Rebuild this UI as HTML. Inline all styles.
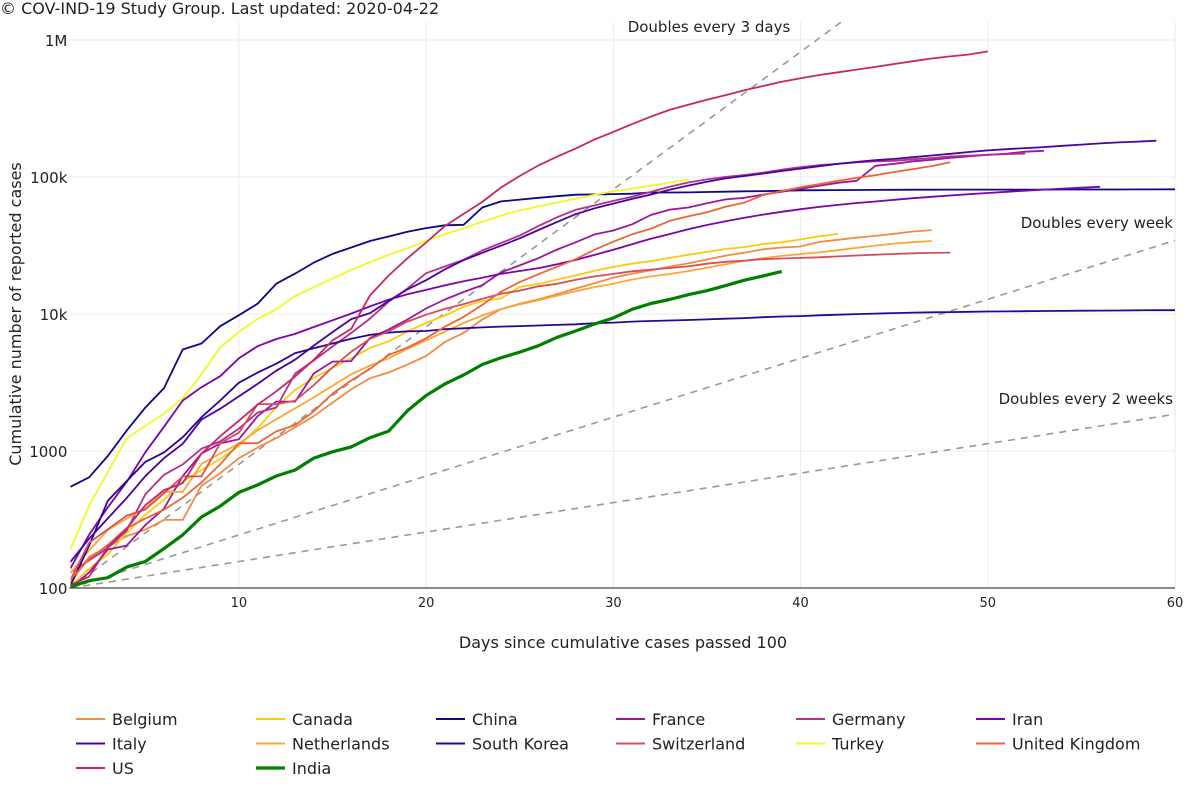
<!DOCTYPE html>
<html><head><meta charset="utf-8">
<style>
body{margin:0;background:#fff;}
svg{display:block;font-family:"DejaVu Sans","Liberation Sans",sans-serif;}
</style></head>
<body>
<svg id="chart" width="1200" height="802" xmlns="http://www.w3.org/2000/svg">
<text x="0" y="14" font-size="16" fill="#222">© COV-IND-19 Study Group. Last updated: 2020-04-22</text>
<g id="grid"></g>
<g id="refs"></g>
<g id="series" ></g>
<g id="axes"></g>
<g id="legend"></g>
<text x="623" y="648" font-size="16" text-anchor="middle" fill="#222">Days since cumulative cases passed 100</text>
<text transform="translate(21,314) rotate(-90)" font-size="16" text-anchor="middle" fill="#222">Cumulative number of reported cases</text>
</svg>
<script>
const xTicks=[10,20,30,40,50,60];
const yTicks=[100,1000,10000,100000,1000000];
const yTickLabels=["100","1000","10k","100k","1M"];
const countries=["Belgium","Canada","China","France","Germany","Iran","Italy","Netherlands","South Korea","Switzerland","Turkey","United Kingdom","US","India"];
const colors=["#f48a45","#f9cc0b","#0d0887","#9c179e","#b52f8c","#7e03a8","#4a02a0","#fca636","#2c0594","#da4c5c","#f0f921","#ee6436","#c8256b","#008000"];
const belgium=[109,169,200,239,267,314,314,559,689,886,1058,1243,1486,1795,2257,2815,3401,3743,4269,4937,6235,7284,9134,10836,11899,12775,13964,15348,16770,18431,19691,20814,22194,23403,24983,26667,28018,29647,30589,31119,33573,34809,36138,37183,38496,39983,40956];
const canada=[103,138,176,252,342,441,598,727,873,1087,1468,2091,2792,3409,4043,4757,5655,6320,7448,8591,9731,11284,12437,12978,15756,16563,17872,19141,20654,22059,23316,24298,25680,27035,28379,29812,30809,32412,33383,35056,36857,38422];
const china=[548,643,920,1406,2075,2877,5509,6087,8141,9802,11891,16630,19716,23707,27440,30587,34110,36814,39829,42354,44386,44759,59895,66358,68413,70513,72434,74211,74619,75077,75550,77001,77022,77241,77754,78166,78600,78928,79356,79932,80136,80261,80386,80537,80690,80770,80823,80860,80887,80921,80932,80945,80977,81003,81033,81058,81102,81156,81250,81305];
const france=[100,130,191,204,288,380,656,959,1136,1219,1794,2293,2293,3681,4496,4532,6683,7715,9124,10970,12758,14463,16243,20123,22622,25600,29551,33402,38105,40708,45170,52827,57749,59929,64338,68605,70478,74390,78167,82048,86334,90676,93790,120633,124869,130253,133470,137875,141356,144944,148084,152894,155393];
const germany=[130,159,196,262,482,670,799,1040,1176,1457,1908,2078,3675,4585,5795,7272,9257,12327,15320,19848,22213,24873,29056,32986,37323,43938,50871,57695,62095,66885,71808,77872,84794,91159,96092,100123,103374,107663,113296,118181,122171,124908,127854,130072,131359,134753,137698,141397,143342,145184,147065,148291];
const iran=[139,245,388,593,978,1501,2336,2922,3513,4747,5823,6566,7161,8042,9000,10075,11364,12729,13938,14991,16169,17361,18407,19644,20610,21638,23049,24811,27017,29406,32332,35408,38309,41495,44605,47593,50468,53183,55743,58226,60500,62589,64586,66220,68192,70029,71686,73303,74877,76389,77995,79494,80868,82211,83505,84802];
const italy=[155,229,322,453,655,888,1128,1694,2036,2502,3089,3858,4636,5883,7375,9172,10149,12462,15113,17660,21157,24747,27980,31506,35713,41035,47021,53578,59138,63927,69176,74386,80589,86498,92472,97689,101739,105792,110574,115242,119827,124632,128948,132547,135586,139422,143626,147577,152271,156363,159516,162488,165155,168941,172434,175925,178972,181228,183957];
const netherlands=[128,188,265,321,382,503,503,804,959,1135,1413,1705,2051,2460,2994,3631,4204,4749,5560,6412,7431,8603,9762,10866,11750,12595,13614,14697,15723,16627,17851,18803,19580,20549,21762,23097,24413,25587,26551,27419,28153,29214,30449,31589,32655,33405,34134];
const southKorea=[104,204,433,602,833,977,1261,1766,2337,3150,3736,4335,5186,5621,6088,6593,7041,7314,7478,7513,7755,7869,7979,8086,8162,8236,8320,8413,8565,8652,8799,8897,8961,9037,9137,9241,9332,9478,9583,9661,9786,9887,9976,10062,10156,10237,10284,10331,10384,10423,10450,10480,10512,10537,10564,10591,10613,10635,10653,10661];
const switzerland=[114,214,268,337,374,491,652,652,1139,1359,2200,2200,2330,3028,4075,5294,6575,7474,8795,9877,10897,11811,12928,14076,14829,15922,16605,17768,18827,19606,20505,21100,21657,22253,23280,24051,24551,25107,25415,25688,25936,26336,26732,27078,27404,27740,27944,28063];
const turkey=[191,400,700,1236,1529,1872,2433,3629,5698,7402,9217,10827,13531,15679,18135,20921,23934,27069,30217,34109,38226,42282,47029,52167,56956,61049,65111,69392,74193,78546,82329,86306,90980,95591];
const uk=[115,163,206,273,321,373,456,590,798,1140,1140,1391,1543,1950,2626,3269,3983,5018,5683,6650,8077,9529,11658,14543,17089,19522,22141,25150,29474,33718,38168,41903,47806,51608,55242,60733,65077,73758,78991,84279,88621,93873,98476,103093,108692,114217,120067,128000];
const us=[105,121,200,271,402,518,583,959,1281,1663,2179,2726,3499,4632,6421,7786,13680,19101,25493,33276,43847,53740,65778,83836,101657,121478,140886,161807,188172,213372,243453,275586,308850,337072,366667,396223,429052,461437,496535,526396,555313,580619,607670,636350,667801,699706,732197,758809,784326,825041];
const india=[102,113,119,142,156,194,244,330,396,499,566,657,727,887,987,1071,1251,1397,1965,2543,3082,3588,4281,4789,5274,5865,6761,7529,8447,9352,10815,11933,12759,13835,14792,16116,17656,18985,20471];
const seriesData=[belgium,canada,china,france,germany,iran,italy,netherlands,southKorea,switzerland,turkey,uk,us,india];
const doublingDays=[3,7,14];
const doublingLabels=["Doubles every 3 days","Doubles every week","Doubles every 2 weeks"];

const NS="http://www.w3.org/2000/svg";
const X0=70.4,X1=1175,Y0=588,DEC=137,TOP=22;
function xs(d){return X0+(d-1)*(X1-X0)/59;}
function ys(v){return Y0-DEC*Math.log10(v/100);}
function mk(tag,attrs,parent){const e=document.createElementNS(NS,tag);for(const k in attrs)e.setAttribute(k,attrs[k]);parent.appendChild(e);return e;}

const grid=document.getElementById('grid');
xTicks.forEach((t,i)=>{
  const l=mk('line',{x1:xs(t),x2:xs(t),y1:TOP,y2:Y0,stroke:'#ebebeb','stroke-width':1},grid);
  
  
  const tx=mk('text',{x:xs(t),y:Y0+19,'font-size':13,'text-anchor':'middle',fill:'#222'},grid);
  tx.textContent=t;
  
  
});
yTicks.forEach((t,i)=>{
  const l=mk('line',{x1:X0,x2:X1,y1:ys(t),y2:ys(t),stroke:'#ebebeb','stroke-width':1},grid);
  
  
  const tx=mk('text',{x:X0-3,y:ys(t)+6,'font-size':15,'text-anchor':'end',fill:'#222'},grid);
  tx.textContent=yTickLabels[i];
  
  
});

const svg=document.getElementById('chart');
const defs=mk('defs',{},svg);
const cp=mk('clipPath',{id:'plotclip'},defs);
mk('rect',{x:X0,y:TOP,width:X1-X0,height:Y0-TOP},cp);

const refs=document.getElementById('refs');
refs.setAttribute('clip-path','url(#plotclip)');
doublingDays.forEach((T,i)=>{
  let pts=[];
  for(let d=1;d<=60;d+=0.25){pts.push(xs(d).toFixed(1)+','+ys(100*Math.pow(2,(d-1)/T)).toFixed(1));}
  const p=mk('polyline',{points:pts.join(' '),fill:'none',stroke:'#999','stroke-width':1.6,'stroke-dasharray':'7,6'},refs);
  
  
});
const labPos=[{x:709,y:32,a:'middle'},{x:1173,y:228,a:'end'},{x:1173,y:404,a:'end'}];
doublingLabels.forEach((s,i)=>{
  const t=mk('text',{x:labPos[i].x,y:labPos[i].y,'font-size':15,'text-anchor':labPos[i].a,fill:'#222'},svg);
  t.textContent=s;
  
  
});

const sg=document.getElementById('series');
sg.setAttribute('clip-path','url(#plotclip)');
seriesData.forEach((arr,i)=>{
  const pts=arr.map((v,j)=>xs(j+1).toFixed(1)+','+ys(v).toFixed(1)).join(' ');
  const p=mk('polyline',{points:pts,fill:'none',stroke:colors[i],'stroke-width':countries[i]==='India'?3.2:1.8,'stroke-linejoin':'round'},sg);
  
  
});

const ax=document.getElementById('axes');
const xl=mk('line',{x1:X0-1,x2:X1,y1:Y0,y2:Y0,stroke:'#444','stroke-width':1.2},ax);



const lg=document.getElementById('legend');
countries.forEach((c,i)=>{
  const col=i%6,row=Math.floor(i/6);
  const x=76+col*180,y=719+row*24.5;
  const g=mk('g',{},lg);
  
  
  mk('line',{x1:x,x2:x+29,y1:y,y2:y,stroke:colors[i],'stroke-width':c==='India'?3.2:2},g);
  const t=mk('text',{x:x+36,y:y+6,'font-size':16,fill:'#222'},g);
  t.textContent=c;
});
</script>
</body></html>
